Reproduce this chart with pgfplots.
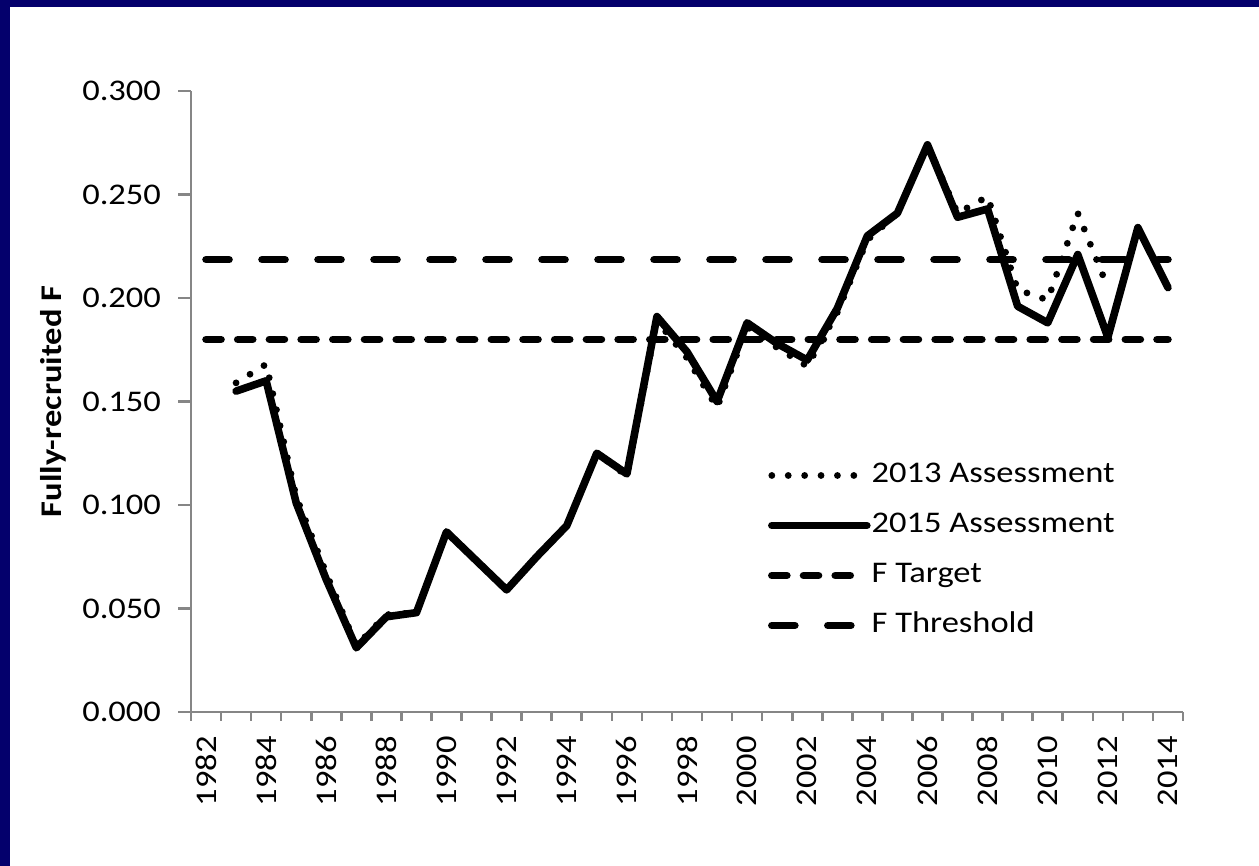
\documentclass[border=0pt]{standalone}
\usepackage{fontspec}
\setmainfont{Carlito}[FakeStretch=1.15]
\usepackage{pgfplots}
\pgfplotsset{compat=1.18}
\definecolor{navy}{RGB}{4,0,108}
\definecolor{axgray}{RGB}{134,134,134}
\begin{document}
\begin{tikzpicture}
\fill[white] (0pt,0pt) rectangle (629.5pt,433pt);
\fill[navy] (0pt,0pt) rectangle (5pt,433pt);
\fill[navy] (0pt,429.5pt) rectangle (629.5pt,433pt);
\begin{axis}[
  at={(95.5pt,77pt)}, anchor=south west,
  scale only axis, width=496pt, height=310.5pt,
  xmin=1981.5, xmax=2014.5, ymin=0, ymax=0.3,
  axis x line*=bottom, axis y line*=left,
  axis line style={axgray, line width=1.3pt, -},
  font=\fontsize{15pt}{18pt}\selectfont,
  tick label style={font=\fontsize{15pt}{18pt}\selectfont, black},
  tick align=outside,
  tick style={axgray, line width=1.3pt},
  major tick length=4.5pt,
  xtick={1981.5,1982.5,...,2014.5},
  xticklabels={},
  ytick=\empty,
  extra x ticks={1982,1984,1986,1988,1990,1992,1994,1996,1998,2000,2002,2004,2006,2008,2010,2012,2014},
  extra x tick labels={1982,1984,1986,1988,1990,1992,1994,1996,1998,2000,2002,2004,2006,2008,2010,2012,2014},
  extra x tick style={major tick length=0pt, xticklabel style={rotate=90, anchor=east, xshift=-8.5pt}},
  extra y ticks={0,0.05,0.1,0.15,0.2,0.25,0.3},
  extra y tick labels={0.000,0.050,0.100,0.150,0.200,0.250,0.300},
  extra y tick style={major tick length=6.5pt, yticklabel style={xshift=-5pt}},
  ylabel={\bfseries Fully-recruited F},
  ylabel style={yshift=-3.5pt},
  legend style={at={(rel axis cs:0.5817,0.4026)}, anchor=north west, draw=none, fill=none,
    inner sep=0pt, outer sep=0pt, row sep=11.5pt, column sep=0.5pt,
    nodes={inner sep=0pt, text height=10.5pt, text depth=3pt},
    font=\fontsize{15pt}{18pt}\selectfont},
  legend cell align=left,
  legend image code/.code={\draw[#1] (0pt,0pt) -- (47.5pt,0pt);},
]
\addplot[black, line width=3.4pt, line cap=round, dash pattern=on 0pt off 8.2pt] coordinates {
(1983,0.159) (1984,0.168) (1985,0.104) (1986,0.067) (1987,0.032) (1988,0.047) (1989,0.048)
(1990,0.087) (1991,0.073) (1992,0.059) (1993,0.075) (1994,0.090) (1995,0.125) (1996,0.114)
(1997,0.189) (1998,0.171) (1999,0.147) (2000,0.186) (2001,0.176) (2002,0.167) (2003,0.193)
(2004,0.228) (2005,0.241) (2006,0.274) (2007,0.241) (2008,0.249) (2009,0.204) (2010,0.199)
(2011,0.241) (2012,0.205)};
\addlegendentry{2013 Assessment}
\addplot[black, line width=3.8pt, line join=round, line cap=round] coordinates {
(1983,0.155) (1984,0.160) (1985,0.101) (1986,0.064) (1987,0.031) (1988,0.046) (1989,0.048)
(1990,0.087) (1991,0.073) (1992,0.059) (1993,0.075) (1994,0.090) (1995,0.125) (1996,0.115)
(1997,0.191) (1998,0.174) (1999,0.150) (2000,0.188) (2001,0.178) (2002,0.170) (2003,0.195)
(2004,0.230) (2005,0.241) (2006,0.274) (2007,0.239) (2008,0.243) (2009,0.196) (2010,0.188)
(2011,0.221) (2012,0.181) (2013,0.234) (2014,0.205)};
\addlegendentry{2015 Assessment}
\addplot[black, line width=3.8pt, line cap=round, dash pattern=on 7.5pt off 8.35pt] coordinates {(1982,0.18) (2014,0.18)};
\addlegendentry{F Target}
\addplot[black, line width=3.8pt, line cap=round, dash pattern=on 11.5pt off 16.5pt] coordinates {(1982,0.2185) (2014,0.2185)};
\addlegendentry{F Threshold}
\end{axis}
\end{tikzpicture}
\end{document}
